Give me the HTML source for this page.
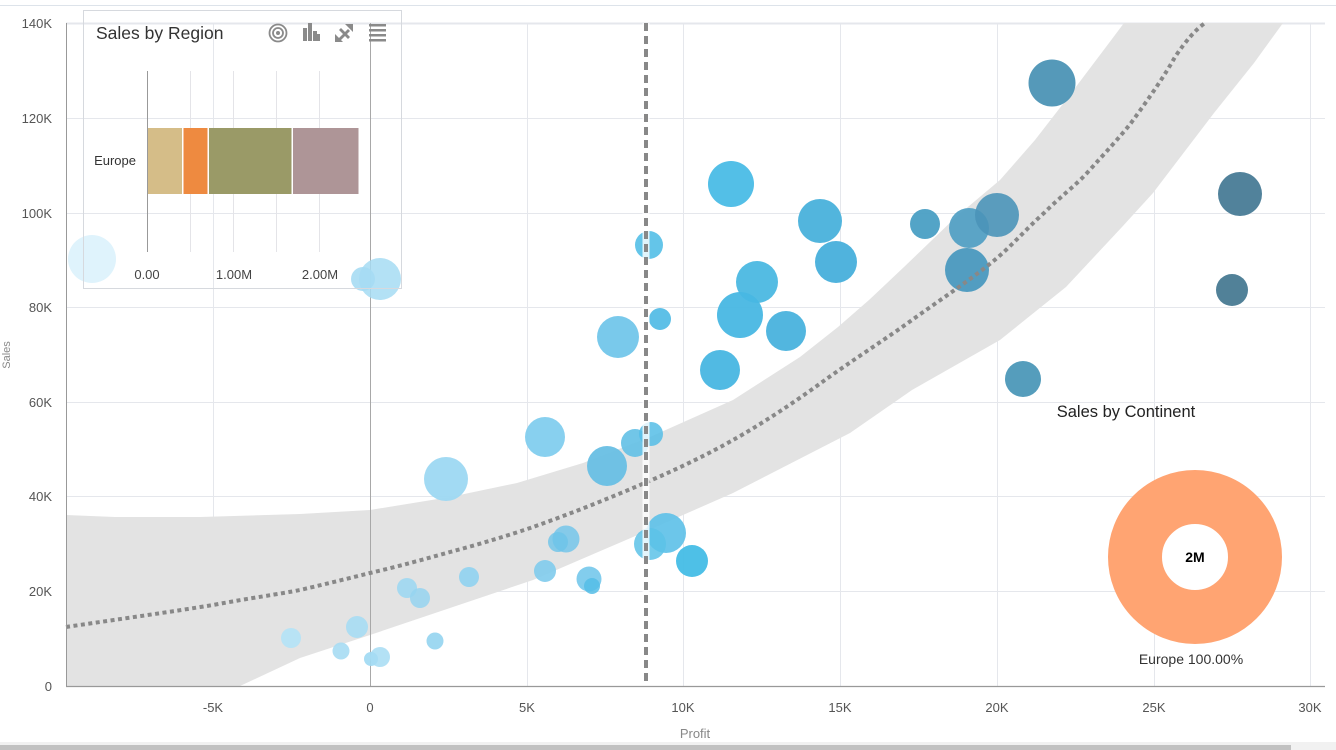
<!DOCTYPE html>
<html>
<head>
<meta charset="utf-8">
<style>
  html,body{margin:0;padding:0;background:#fff;}
  body{width:1336px;height:750px;overflow:hidden;}
  svg{display:block;font-family:"Liberation Sans", sans-serif;}
</style>
</head>
<body>
<svg width="1336" height="750" viewBox="0 0 1336 750" xmlns="http://www.w3.org/2000/svg">
  <rect x="0" y="0" width="1336" height="750" fill="#fff"/>
  <line x1="0" y1="5.5" x2="1336" y2="5.5" stroke="#dde3ea" stroke-width="1"/>

  <g stroke="#e5e7ec" stroke-width="1">
    <line x1="66" y1="591.5" x2="1325" y2="591.5"/>
    <line x1="66" y1="496.5" x2="1325" y2="496.5"/>
    <line x1="66" y1="402.5" x2="1325" y2="402.5"/>
    <line x1="66" y1="307.5" x2="1325" y2="307.5"/>
    <line x1="66" y1="213.5" x2="1325" y2="213.5"/>
    <line x1="66" y1="118.5" x2="1325" y2="118.5"/>
    <line x1="66" y1="23.5" x2="1325" y2="23.5" stroke-width="2"/>
    <line x1="213.5" y1="23" x2="213.5" y2="686"/>
    <line x1="527.5" y1="23" x2="527.5" y2="686"/>
    <line x1="683.5" y1="23" x2="683.5" y2="686"/>
    <line x1="840.5" y1="23" x2="840.5" y2="686"/>
    <line x1="997.5" y1="23" x2="997.5" y2="686"/>
    <line x1="1154.5" y1="23" x2="1154.5" y2="686"/>
    <line x1="1310.5" y1="23" x2="1310.5" y2="686"/>
  </g>

  <path d="M66,515 L115,517 L200,517 L300,514 L370,510 L450,497 L517,483 L583,463 L650,437 L733,400 L800,357 L838,327 L869,300 L904,267 L956,217 L1000,180 L1035,140 L1066,100 L1109,43 L1124,23 L1283,23 L1254,63 L1214,113 L1153,193 L1122,227 L1066,287 L1000,340 L912,390 L850,433 L733,493 L633,537 L533,580 L450,608 L370,635 L300,658 L240,686 L66,686 Z" fill="#e3e3e3"/>

  <line x1="370.5" y1="23" x2="370.5" y2="686" stroke="#a8a8a8" stroke-width="1"/>

  <g>
    <circle cx="92" cy="259" r="24" fill="#dff3fc"/>
    <circle cx="291" cy="638" r="10" fill="#b3e2f6" fill-opacity="0.9"/>
    <circle cx="341" cy="651" r="8.5" fill="#a6dcf3" fill-opacity="0.9"/>
    <circle cx="357" cy="627" r="11" fill="#a6dcf3" fill-opacity="0.9"/>
    <circle cx="371" cy="659" r="7" fill="#9fd9f3" fill-opacity="0.9"/>
    <circle cx="380" cy="657" r="10" fill="#a6dcf3" fill-opacity="0.85"/>
    <circle cx="407" cy="588" r="10" fill="#9dd7f1" fill-opacity="0.9"/>
    <circle cx="420" cy="598" r="10" fill="#95d4f0" fill-opacity="0.85"/>
    <circle cx="435" cy="641" r="8.5" fill="#93d4f0" fill-opacity="0.9"/>
    <circle cx="469" cy="577" r="10" fill="#8fd1ef" fill-opacity="0.9"/>
    <circle cx="363" cy="279" r="12" fill="#a6dcf3" fill-opacity="0.9"/>
    <circle cx="380" cy="279" r="21" fill="#a6dcf3" fill-opacity="0.85"/>
    <circle cx="446" cy="479" r="22" fill="#9dd8f2" fill-opacity="0.95"/>
    <circle cx="545" cy="437" r="20" fill="#82cdee" fill-opacity="0.95"/>
    <circle cx="545" cy="571" r="11" fill="#7fcbec" fill-opacity="0.9"/>
    <circle cx="566" cy="539" r="13.5" fill="#74c6ea" fill-opacity="0.85"/>
    <circle cx="558" cy="542" r="10" fill="#6cc3e8" fill-opacity="0.8"/>
    <circle cx="589" cy="579" r="12.5" fill="#6cc4ea" fill-opacity="0.85"/>
    <circle cx="592" cy="586" r="8" fill="#55bde6" fill-opacity="0.85"/>
    <circle cx="607" cy="466" r="20" fill="#68bfe4" fill-opacity="0.95"/>
    <circle cx="618" cy="337" r="21" fill="#72c6ea" fill-opacity="0.95"/>
    <circle cx="635" cy="443" r="14" fill="#62c0e6" fill-opacity="0.9"/>
    <circle cx="651" cy="434" r="12" fill="#55bde6" fill-opacity="0.85"/>
    <circle cx="649" cy="245" r="14" fill="#5cc2e8" fill-opacity="0.95"/>
    <circle cx="660" cy="319" r="11" fill="#55bde6" fill-opacity="0.95"/>
    <circle cx="666" cy="533" r="20" fill="#5cc0e8" fill-opacity="0.9"/>
    <circle cx="650" cy="544" r="16" fill="#5cc2e8" fill-opacity="0.85"/>
    <circle cx="692" cy="561" r="16" fill="#45bde6" fill-opacity="0.95"/>
    <circle cx="731" cy="184" r="23" fill="#4dbde6" fill-opacity="0.97"/>
    <circle cx="757" cy="282" r="21" fill="#4bb8e2" fill-opacity="0.95"/>
    <circle cx="740" cy="315" r="23" fill="#48b7e3" fill-opacity="0.95"/>
    <circle cx="786" cy="331" r="20" fill="#4cb4de" fill-opacity="0.97"/>
    <circle cx="720" cy="370" r="20" fill="#4bb8e2" fill-opacity="0.97"/>
    <circle cx="820" cy="221" r="22" fill="#4cb3dc" fill-opacity="0.97"/>
    <circle cx="836" cy="262" r="21" fill="#4ab1dc" fill-opacity="0.97"/>
    <circle cx="925" cy="224" r="15" fill="#4a9fc4" fill-opacity="0.95"/>
    <circle cx="967" cy="270" r="22" fill="#4a99bf" fill-opacity="0.95"/>
    <circle cx="969" cy="228" r="20" fill="#4b9cc2" fill-opacity="0.9"/>
    <circle cx="997" cy="215" r="22" fill="#4a93b8" fill-opacity="0.9"/>
    <circle cx="1052" cy="83" r="23.5" fill="#4f96b7" fill-opacity="0.97"/>
    <circle cx="1023" cy="379" r="18" fill="#4f9aba" fill-opacity="0.97"/>
    <circle cx="1240" cy="194" r="22" fill="#4e8099" fill-opacity="0.98"/>
    <circle cx="1232" cy="290" r="16" fill="#4e7e96" fill-opacity="0.98"/>
  </g>

  <path d="M66,627 C120,619 170,612 213,605 C250,598 280,594 300,590 C330,583 350,578 370,573 C400,566 425,559 450,552 C480,544 510,535 533,527 C570,514 610,498 647,482 C680,468 710,453 733,440 C760,425 795,402 825,380 C850,362 890,336 912,320 C940,300 970,280 991,263 C1010,248 1025,230 1044,213 C1060,197 1075,186 1087,173 C1105,153 1120,137 1131,123 C1150,97 1165,75 1175,57 C1185,42 1195,30 1205,23" fill="none" stroke="#888" stroke-width="4" stroke-dasharray="4 3.5"/>

  <line x1="646" y1="23" x2="646" y2="686" stroke="#fff" stroke-width="7" stroke-opacity="0.8"/>
  <line x1="646" y1="23" x2="646" y2="686" stroke="#888" stroke-width="4" stroke-dasharray="8 5"/>

  <line x1="66.5" y1="23" x2="66.5" y2="686" stroke="#999" stroke-width="1"/>
  <line x1="66" y1="686.5" x2="1325" y2="686.5" stroke="#999" stroke-width="1.2"/>

  <g font-size="13" fill="#555" text-anchor="end">
    <text x="52" y="691">0</text>
    <text x="52" y="596">20K</text>
    <text x="52" y="501">40K</text>
    <text x="52" y="407">60K</text>
    <text x="52" y="312">80K</text>
    <text x="52" y="218">100K</text>
    <text x="52" y="123">120K</text>
    <text x="52" y="28">140K</text>
  </g>
  <g font-size="13" fill="#555" text-anchor="middle">
    <text x="213" y="712">-5K</text>
    <text x="370" y="712">0</text>
    <text x="527" y="712">5K</text>
    <text x="683" y="712">10K</text>
    <text x="840" y="712">15K</text>
    <text x="997" y="712">20K</text>
    <text x="1154" y="712">25K</text>
    <text x="1310" y="712">30K</text>
  </g>
  <text x="695" y="738" font-size="13" fill="#888" text-anchor="middle">Profit</text>
  <text transform="translate(10,355) rotate(-90)" font-size="11" fill="#888" text-anchor="middle">Sales</text>

  <rect x="83.5" y="10.5" width="318" height="278" fill="none" stroke="#d6d9de" stroke-width="1"/>
  <text x="96" y="39" font-size="17.5" fill="#333">Sales by Region</text>
  <g fill="none" stroke="#8a8a8a" stroke-width="1.8">
    <circle cx="278" cy="33" r="8.5"/>
    <circle cx="278" cy="33" r="5"/>
  </g>
  <circle cx="278" cy="33" r="2" fill="#8a8a8a"/>
  <g fill="#8a8a8a">
    <rect x="303" y="28" width="4" height="13"/>
    <rect x="308" y="23" width="4" height="18"/>
    <rect x="313" y="31" width="4" height="10"/>
    <rect x="317" y="34" width="3" height="7"/>
    <polygon points="345,24 353,24 353,32"/>
    <polygon points="335,42 335,34 343,42"/>
    <polygon points="337,40 348,29 350,31 339,42"/>
    <polygon points="339,30 341,28 350,37 348,39"/>
    <rect x="369" y="24" width="17" height="2.5"/>
    <rect x="369" y="29" width="17" height="2.5"/>
    <rect x="369" y="34" width="17" height="2.5"/>
    <rect x="369" y="39" width="17" height="2.5"/>
  </g>
  <g stroke="#e4e4e8" stroke-width="1">
    <line x1="190.5" y1="71" x2="190.5" y2="252"/>
    <line x1="233.5" y1="71" x2="233.5" y2="252"/>
    <line x1="276.5" y1="71" x2="276.5" y2="252"/>
    <line x1="319.5" y1="71" x2="319.5" y2="252"/>
  </g>
  <line x1="147.5" y1="71" x2="147.5" y2="252" stroke="#999" stroke-width="1"/>
  <rect x="148" y="128" width="34" height="66" fill="#d5bd88"/>
  <rect x="183.5" y="128" width="24" height="66" fill="#ee8a40"/>
  <rect x="209" y="128" width="82.5" height="66" fill="#9a9a67"/>
  <rect x="293" y="128" width="65.5" height="66" fill="#ae9597"/>
  <text x="136" y="165" font-size="13" fill="#333" text-anchor="end">Europe</text>
  <g font-size="13" fill="#444" text-anchor="middle">
    <text x="147" y="279">0.00</text>
    <text x="234" y="279">1.00M</text>
    <text x="320" y="279">2.00M</text>
  </g>

  <text x="1126" y="417" font-size="16.5" fill="#222" text-anchor="middle">Sales by Continent</text>
  <circle cx="1195" cy="557" r="60" fill="none" stroke="#ffa472" stroke-width="54"/>
  <text x="1195" y="562" font-size="14" font-weight="bold" fill="#000" text-anchor="middle">2M</text>
  <text x="1191" y="664" font-size="14" fill="#333" text-anchor="middle">Europe 100.00%</text>

  <rect x="0" y="742" width="1336" height="8" fill="#f1f1f1"/>
  <rect x="0" y="745" width="1291" height="5" fill="#c1c1c1"/>
</svg>
</body>
</html>
